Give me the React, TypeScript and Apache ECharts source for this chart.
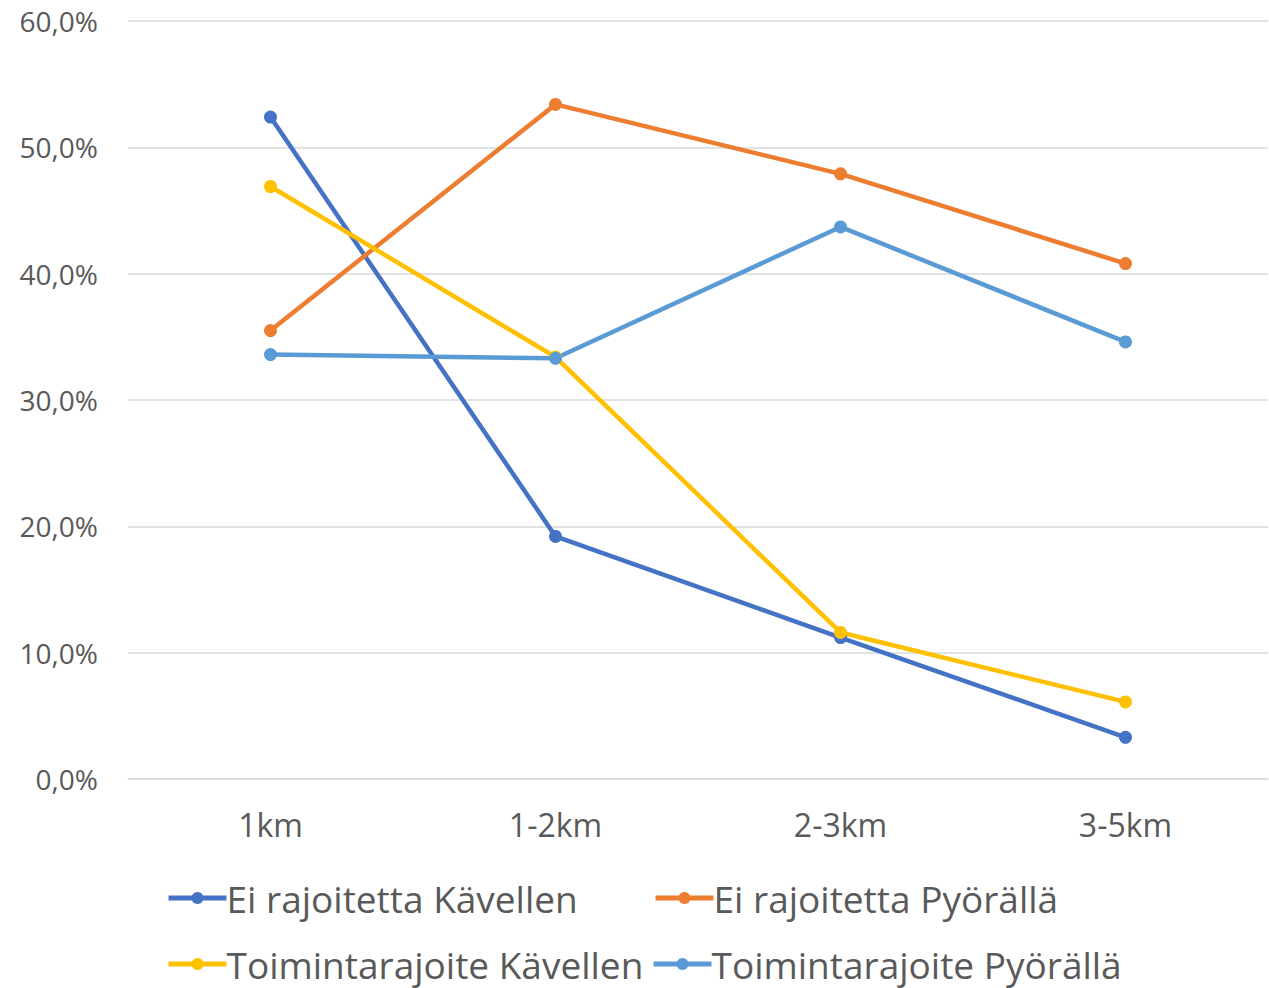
import React, { useEffect, useRef } from "react";
import * as echarts from "echarts";

const categories = ["1km", "1-2km", "2-3km", "3-5km"];
const seriesNames = [
  "Ei rajoitetta Kävellen",
  "Ei rajoitetta Pyörällä",
  "Toimintarajoite Kävellen",
  "Toimintarajoite Pyörällä",
];
const eiKavellen = [52.4, 19.2, 11.2, 3.3];
const eiPyoralla = [35.5, 53.4, 47.9, 40.8];
const toimKavellen = [46.9, 33.4, 11.6, 6.1];
const toimPyoralla = [33.6, 33.3, 43.7, 34.6];
const colors = ["#4472C4", "#ED7D31", "#FFC000", "#5B9BD5"];

const FONT = "'Open Sans', 'Noto Sans', sans-serif";

export default function App() {
  const ref = useRef<HTMLDivElement>(null);
  useEffect(() => {
    if (!ref.current) return;
    const chart = echarts.init(ref.current, null, { renderer: "svg" });
    const data = [eiKavellen, eiPyoralla, toimKavellen, toimPyoralla];
    const legendPos = [
      { left: 166, top: 879 },
      { left: 653, top: 879 },
      { left: 166, top: 945 },
      { left: 651, top: 945 },
    ];
    chart.setOption({
      animation: false,
      backgroundColor: "#ffffff",
      grid: { left: 128, right: 1, top: 21, bottom: 209, containLabel: false },
      xAxis: {
        type: "category",
        data: categories,
        boundaryGap: true,
        axisLine: { show: true, lineStyle: { color: "#d9d9d9", width: 1.5 } },
        axisTick: { show: false },
        axisLabel: {
          color: "#595959",
          fontSize: 32,
          fontFamily: FONT,
          margin: 29,
        },
      },
      yAxis: {
        type: "value",
        min: 0,
        max: 60,
        interval: 10,
        axisLine: { show: false },
        axisTick: { show: false },
        splitLine: { lineStyle: { color: "#d9d9d9", width: 1.5 } },
        axisLabel: {
          color: "#595959",
          fontSize: 28,
          fontFamily: FONT,
          margin: 30,
          formatter: (v: number) => v.toFixed(1).replace(".", ",") + "%",
        },
      },
      legend: seriesNames.map((name, i) => ({
        data: [name],
        left: legendPos[i].left,
        top: legendPos[i].top,
        itemWidth: 58,
        itemHeight: 15,
        itemGap: 0,
        padding: 0,
        lineStyle: { width: 5 },
        textStyle: {
          color: "#595959",
          fontSize: 37,
          lineHeight: 38,
          fontFamily: FONT,
          padding: [0, 0, 0, -5],
        },
      })),
      series: seriesNames.map((name, i) => ({
        name,
        type: "line",
        data: data[i],
        color: colors[i],
        symbol: "circle",
        symbolSize: 13,
        lineStyle: { width: 4.5, color: colors[i] },
        itemStyle: { color: colors[i] },
      })),
    });
    return () => chart.dispose();
  }, []);
  return (
    <div
      ref={ref}
      style={{ position: "fixed", left: 0, top: 0, width: 1269, height: 988 }}
    />
  );
}
